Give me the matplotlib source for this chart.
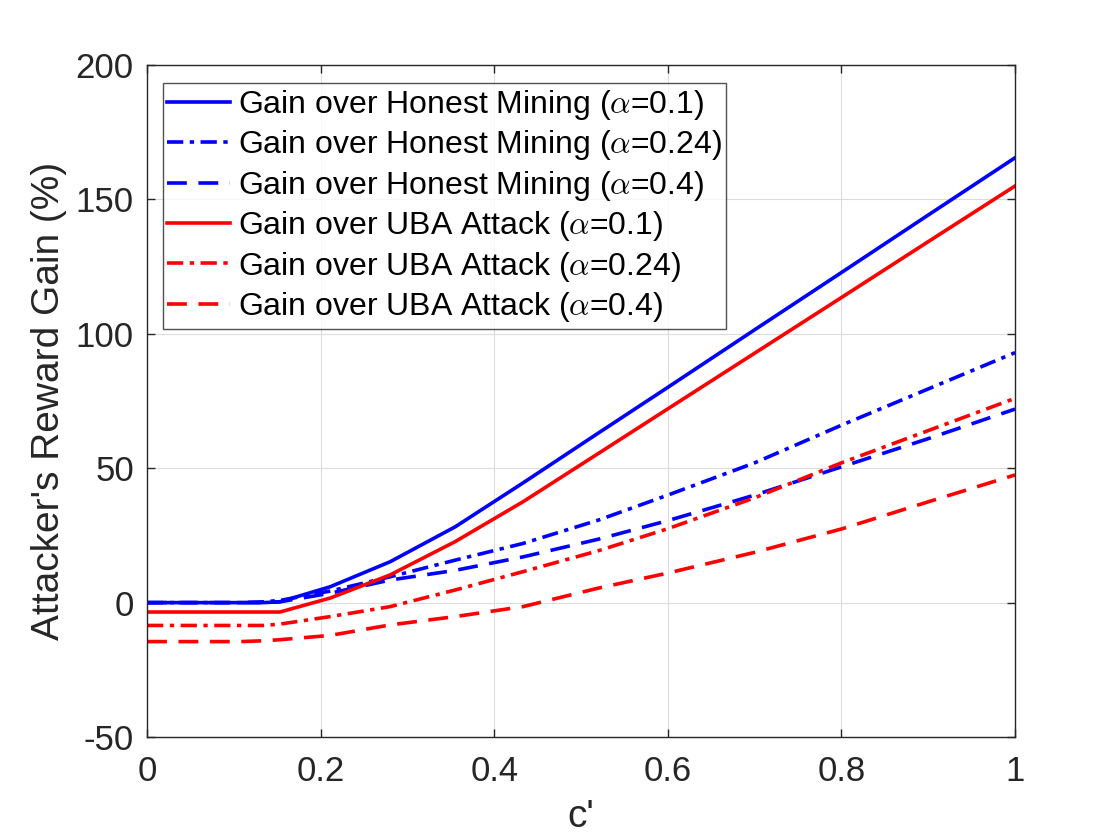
import matplotlib
matplotlib.use('Agg')
import matplotlib.pyplot as plt

plt.rcParams['font.family'] = ['Liberation Sans', 'DejaVu Sans']
plt.rcParams['mathtext.fontset'] = 'cm'
plt.rcParams['axes.unicode_minus'] = False

# c' sample points and gains (%)
c_prime = [0, 0.107, 0.134, 0.153, 0.211, 0.28, 0.355, 0.433, 0.52, 0.6, 0.7, 0.8, 0.9, 1.0]

hm_01 = [0, 0, 0, 0.3, 5.9, 15.2, 28.2, 44.5, 63.1, 80.1, 101.5, 122.8, 144.2, 165.5]
hm_024 = [0, 0, 0.3, 0.8, 4.3, 9.6, 15.8, 22, 30.7, 40, 52, 66, 79.5, 93]
hm_04 = [0, 0, 0, 0.3, 3.5, 8.4, 12, 17, 23.6, 30.5, 40, 50.5, 61, 72]
uba_01 = [-3.5, -3.5, -3.5, -3.5, 1.7, 10.3, 22.7, 37.5, 55.5, 72.1, 92.8, 113.5, 134.3, 155]
uba_024 = [-8.5, -8.5, -8.5, -8, -5.2, -1.5, 4.7, 11.5, 19.3, 27.5, 39, 52, 64, 76]
uba_04 = [-14.5, -14.5, -14.2, -13.8, -12.2, -8.3, -5.2, -1.5, 5.4, 11, 18.7, 27.4, 37.5, 47.5]

labels = [
    r'Gain over Honest Mining ($\alpha$=0.1)',
    r'Gain over Honest Mining ($\alpha$=0.24)',
    r'Gain over Honest Mining ($\alpha$=0.4)',
    r'Gain over UBA Attack ($\alpha$=0.1)',
    r'Gain over UBA Attack ($\alpha$=0.24)',
    r'Gain over UBA Attack ($\alpha$=0.4)',
]

dash_dot = (0, (4.5, 1.8, 1.2, 1.8))
dashed = (0, (5.5, 3.2))

fig = plt.figure(figsize=(11.2, 8.4), dpi=100)
ax = fig.add_axes([0.1313, 0.1226, 0.775, 0.80])

lw = 2.6
ax.plot(c_prime, hm_01, color='#0000ff', lw=lw, ls='-', label=labels[0])
ax.plot(c_prime, hm_024, color='#0000ff', lw=lw, ls=dash_dot, label=labels[1])
ax.plot(c_prime, hm_04, color='#0000ff', lw=lw, ls=dashed, label=labels[2])
ax.plot(c_prime, uba_01, color='#ff0000', lw=lw, ls='-', label=labels[3])
ax.plot(c_prime, uba_024, color='#ff0000', lw=lw, ls=dash_dot, label=labels[4])
ax.plot(c_prime, uba_04, color='#ff0000', lw=lw, ls=dashed, label=labels[5])

ax.set_xlim(0, 1)
ax.set_ylim(-50, 200)
ax.set_xticks([0, 0.2, 0.4, 0.6, 0.8, 1])
ax.set_xticklabels(['0', '0.2', '0.4', '0.6', '0.8', '1'])
ax.set_yticks([-50, 0, 50, 100, 150, 200])

ax.grid(True, color='#dcdcdc', linewidth=0.8)
ax.set_axisbelow(True)
for s in ax.spines.values():
    s.set_color('#262626')
    s.set_linewidth(1.0)
ax.tick_params(direction='in', length=6, width=1.0, top=True, right=True,
               labelsize=25, colors='#262626')
ax.tick_params(axis='x', pad=13)
ax.tick_params(axis='y', pad=9.5)

ax.set_xlabel("c'", fontsize=28, color='#262626', labelpad=8)
ax.set_ylabel("Attacker's Reward Gain (%)", fontsize=28, color='#262626', labelpad=6)

leg = ax.legend(loc='upper left', bbox_to_anchor=(0.018, 0.973), fontsize=23,
                frameon=True, fancybox=False, edgecolor='#262626',
                handlelength=1.95, handletextpad=0.25, labelspacing=0.2,
                borderpad=0.15, borderaxespad=0)
leg.get_frame().set_linewidth(1.0)

fig.savefig('out.png', dpi=100)
